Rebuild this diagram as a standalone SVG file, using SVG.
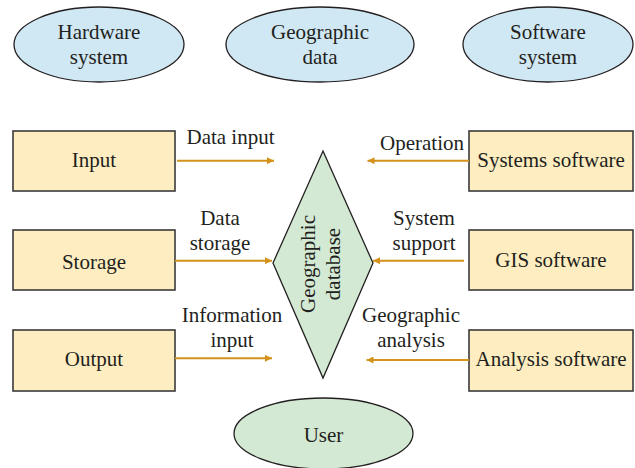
<svg xmlns="http://www.w3.org/2000/svg" width="635" height="468" viewBox="0 0 635 468">
  <style>
    text { font-family: "Liberation Serif", "Times New Roman", serif; font-size: 21px; fill: #231f20; text-anchor: middle; }
    .sys { fill: #d0e7f4; stroke: #231f20; stroke-width: 1.3; }
    .core { fill: #d3e9d3; stroke: #231f20; stroke-width: 1.3; }
    .box { fill: #fdedc1; stroke: #3a3a3a; stroke-width: 1.6; }
    .flow { stroke: #d4921c; stroke-width: 2; fill: none; marker-end: url(#arrow); }
  </style>
  <defs>
    <marker id="arrow" markerWidth="8" markerHeight="7" refX="7" refY="3.5" orient="auto" markerUnits="userSpaceOnUse">
      <path d="M0,0 L7,3.5 L0,7 Z" fill="#d4921c"/>
    </marker>
  </defs>

  <!-- top-level systems -->
  <g id="hardware-system">
    <ellipse class="sys" cx="99" cy="44.5" rx="85" ry="37.5"/>
    <text x="99" y="38.5">Hardware</text>
    <text x="99" y="63.5">system</text>
  </g>
  <g id="geographic-data">
    <ellipse class="sys" cx="320" cy="44.5" rx="94" ry="37.5"/>
    <text x="320" y="38.5">Geographic</text>
    <text x="320" y="63.5">data</text>
  </g>
  <g id="software-system">
    <ellipse class="sys" cx="548" cy="44.5" rx="85" ry="37.5"/>
    <text x="548" y="38.5">Software</text>
    <text x="548" y="63.5">system</text>
  </g>

  <!-- hardware components -->
  <g id="input">
    <rect class="box" x="13" y="131" width="162" height="60"/>
    <text x="94" y="167">Input</text>
  </g>
  <g id="storage">
    <rect class="box" x="13" y="230" width="162" height="60"/>
    <text x="94" y="268.5">Storage</text>
  </g>
  <g id="output">
    <rect class="box" x="13" y="330" width="162" height="61"/>
    <text x="94" y="366">Output</text>
  </g>

  <!-- software components -->
  <g id="systems-software">
    <rect class="box" x="469" y="131" width="164" height="60"/>
    <text x="551" y="167">Systems software</text>
  </g>
  <g id="gis-software">
    <rect class="box" x="469" y="230" width="164" height="60"/>
    <text x="551" y="267">GIS software</text>
  </g>
  <g id="analysis-software">
    <rect class="box" x="469" y="330" width="164" height="61"/>
    <text x="551" y="366">Analysis software</text>
  </g>

  <!-- central database -->
  <g id="geographic-database">
    <polygon class="core" points="323,151 373,263 323,378 273,263"/>
    <g transform="translate(321,264) rotate(-90)">
      <text x="0" y="-6">Geographic</text>
      <text x="0" y="19">database</text>
    </g>
  </g>

  <g id="user">
    <ellipse class="core" cx="323.5" cy="433.5" rx="89.5" ry="35.5"/>
    <text x="323.5" y="441.5">User</text>
  </g>

  <!-- data flows into the database -->
  <g id="connectors">
    <line class="flow" x1="177" y1="160.7" x2="274" y2="160.7"/>
    <line class="flow" x1="175" y1="260.7" x2="272" y2="260.7"/>
    <line class="flow" x1="175" y1="358.3" x2="272" y2="358.3"/>
    <line class="flow" x1="469" y1="160.7" x2="367.5" y2="160.7"/>
    <line class="flow" x1="464" y1="260.7" x2="373" y2="260.7"/>
    <line class="flow" x1="469" y1="360" x2="366.5" y2="360"/>
  </g>

  <!-- flow labels -->
  <g id="flow-labels">
    <text x="230.5" y="144">Data input</text>
    <text x="220" y="225">Data</text>
    <text x="220" y="250">storage</text>
    <text x="232" y="321.7">Information</text>
    <text x="232" y="346.7">input</text>
    <text x="422" y="149.5">Operation</text>
    <text x="424" y="225">System</text>
    <text x="424" y="250">support</text>
    <text x="411" y="321.7">Geographic</text>
    <text x="411" y="346.7">analysis</text>
  </g>
</svg>
